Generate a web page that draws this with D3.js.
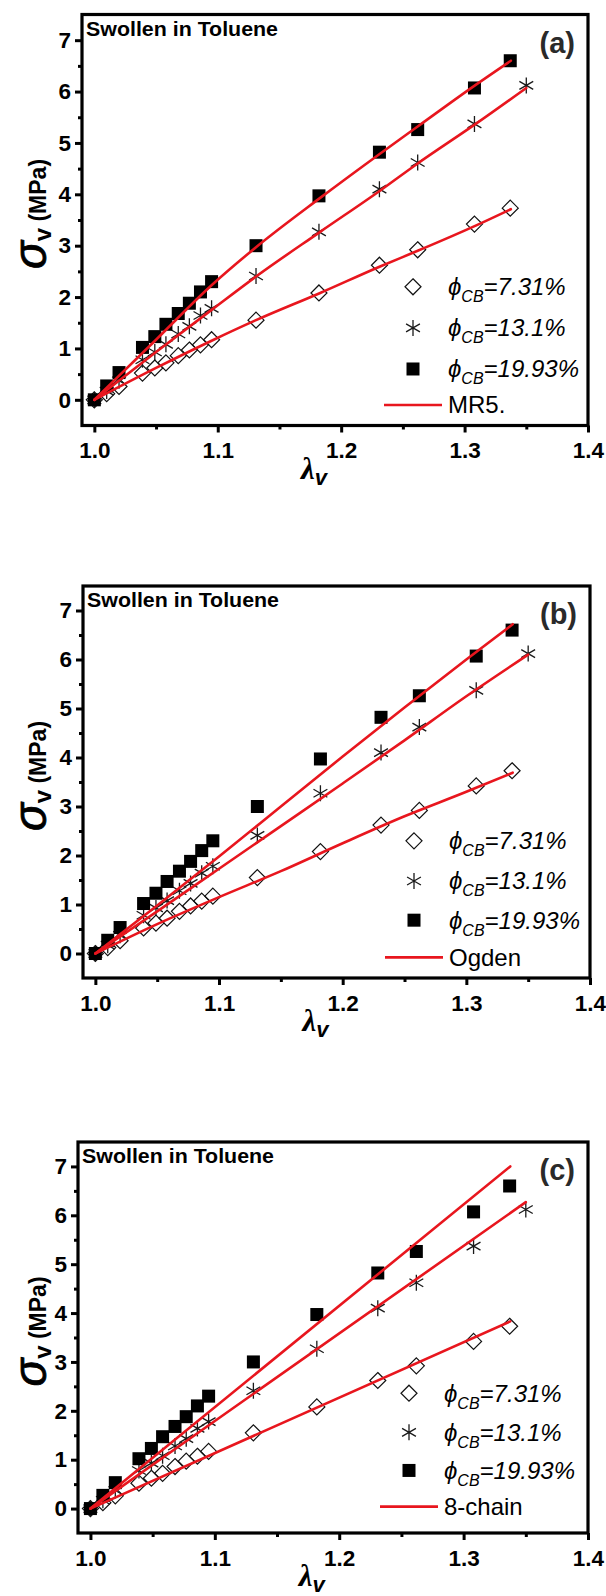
<!DOCTYPE html>
<html>
<head>
<meta charset="utf-8">
<script src="https://cdn.jsdelivr.net/npm/d3@7"></script>
<style>
  html, body { margin: 0; padding: 0; background: #fff; }
  svg { display: block; }
  text { font-family: "Liberation Sans", Arial, sans-serif; }
</style>
</head>
<body>
<svg id="fig" width="606" height="1596"></svg>
<script>
// Measured stretch ratio λ for each series (the 13.1 % series ends at a larger stretch)
const lambdaPts    = [1.000, 1.010, 1.020, 1.039, 1.049, 1.058, 1.068, 1.077, 1.086, 1.095, 1.131, 1.182, 1.231, 1.262, 1.308, 1.337];
const lambdaPts131 = [1.000, 1.010, 1.020, 1.039, 1.049, 1.058, 1.068, 1.077, 1.086, 1.095, 1.131, 1.182, 1.231, 1.262, 1.308, 1.350];

// Measured stress σ_v (MPa)
const sigma731  = [0, 0.12, 0.26, 0.52, 0.62, 0.72, 0.86, 0.97, 1.07, 1.17, 1.55, 2.08, 2.62, 2.92, 3.42, 3.73];
const sigma131  = [0, 0.17, 0.37, 0.78, 0.93, 1.08, 1.28, 1.43, 1.64, 1.78, 2.41, 3.27, 4.10, 4.62, 5.37, 6.12];
const sigma1993 = [0, 0.27, 0.53, 1.02, 1.23, 1.47, 1.68, 1.88, 2.10, 2.30, 3.00, 3.97, 4.82, 5.26, 6.07, 6.60];

const seriesNames = ["7.31%", "13.1%", "19.93%"];

// Model curves [λ, σ]
const mr5_731  = [[1, 0], [1.05, 0.62], [1.095, 1.15], [1.131, 1.55], [1.183, 2.08], [1.232, 2.6], [1.262, 2.9], [1.309, 3.39], [1.3375, 3.71]];
const mr5_131  = [[1, 0], [1.05, 0.93], [1.095, 1.75], [1.131, 2.4], [1.183, 3.27], [1.232, 4.08], [1.262, 4.6], [1.309, 5.37], [1.35, 6.07]];
const mr5_1993 = [[1, 0], [1.05, 1.17], [1.095, 2.23], [1.131, 2.97], [1.183, 3.93], [1.232, 4.8], [1.262, 5.32], [1.309, 6.13], [1.3375, 6.6]];

const ogden_731  = [[1, 0], [1.05, 0.6], [1.1, 1.15], [1.15, 1.68], [1.2, 2.25], [1.25, 2.8], [1.3, 3.3], [1.3375, 3.69]];
const ogden_131  = [[1, 0], [1.05, 0.86], [1.1, 1.73], [1.15, 2.6], [1.2, 3.47], [1.25, 4.35], [1.3, 5.25], [1.35, 6.1]];
const ogden_1993 = [[1, 0], [1.05, 0.98], [1.1, 1.98], [1.15, 3.0], [1.2, 4.02], [1.25, 5.02], [1.3, 6.0], [1.3375, 6.72]];

const chain_731  = [[1, 0], [1.3375, 3.83]];
const chain_131  = [[1, 0], [1.35, 6.27]];
const chain_1993 = [[1, 0], [1.3375, 7.0]];

// Axis ticks
const xTicks = [1.0, 1.1, 1.2, 1.3, 1.4];
const xMinor = [1.05, 1.15, 1.25, 1.35];
const yTicks = [0, 1, 2, 3, 4, 5, 6, 7];
const yMinor = [0.5, 1.5, 2.5, 3.5, 4.5, 5.5, 6.5];

const xDomain = [0.99, 1.4];
const yDomain = [-0.5, 7.5];

const RED = "#e8161e";
const svg = d3.select("#fig");

const panels = [
  { tag: "(a)", fitName: "MR5.",    fits: [mr5_731, mr5_131, mr5_1993],       box: { left: 82, right: 588, top: 14.5, bottom: 425.5 }, legendRows: [2.2, 1.4, 0.6, -0.1] },
  { tag: "(b)", fitName: "Ogden",   fits: [ogden_731, ogden_131, ogden_1993], box: { left: 83, right: 590, top: 586,  bottom: 978 },   legendRows: [2.3, 1.48, 0.68, -0.08] },
  { tag: "(c)", fitName: "8-chain", fits: [chain_731, chain_131, chain_1993], box: { left: 78, right: 588, top: 1142, bottom: 1533 },  legendRows: [2.36, 1.56, 0.78, 0.04] }
];

const diamondPath = "M0,-8L8,0L0,8L-8,0Z";
const starPath = (() => {
  const r = 8, p = [];
  for (let k = 0; k < 3; k++) {
    const a = Math.PI / 2 + k * Math.PI / 3;
    p.push(`M${(r * Math.cos(a)).toFixed(2)},${(-r * Math.sin(a)).toFixed(2)}L${(-r * Math.cos(a)).toFixed(2)},${(r * Math.sin(a)).toFixed(2)}`);
  }
  return p.join("");
})();

function drawMarker(g, kind, cx, cy) {
  if (kind === 0) {
    g.append("path").attr("d", diamondPath).attr("transform", `translate(${cx},${cy})`)
      .attr("fill", "none").attr("stroke", "#111").attr("stroke-width", 1.2);
  } else if (kind === 1) {
    g.append("path").attr("d", starPath).attr("transform", `translate(${cx},${cy})`)
      .attr("fill", "none").attr("stroke", "#1a1a1a").attr("stroke-width", 1.3);
  } else {
    g.append("rect").attr("x", cx - 6.5).attr("y", cy - 6.5).attr("width", 13).attr("height", 13).attr("fill", "#000");
  }
}

function drawPanel(p) {
  const b = p.box;
  const x = d3.scaleLinear().domain(xDomain).range([b.left, b.right]);
  const y = d3.scaleLinear().domain(yDomain).range([b.bottom, b.top]);
  const g = svg.append("g");

  // axes (ticks outward)
  const xAxis = g.append("g").attr("transform", `translate(0,${b.bottom})`)
    .call(d3.axisBottom(x).tickValues(xTicks).tickFormat(d3.format(".1f")).tickSize(7).tickPadding(10));
  const xAxisMinor = g.append("g").attr("transform", `translate(0,${b.bottom})`)
    .call(d3.axisBottom(x).tickValues(xMinor).tickFormat("").tickSize(4));
  const yAxis = g.append("g").attr("transform", `translate(${b.left},0)`)
    .call(d3.axisLeft(y).tickValues(yTicks).tickFormat(d3.format("d")).tickSize(7).tickPadding(4));
  const yAxisMinor = g.append("g").attr("transform", `translate(${b.left},0)`)
    .call(d3.axisLeft(y).tickValues(yMinor).tickFormat("").tickSize(4));
  [xAxis, xAxisMinor, yAxis, yAxisMinor].forEach(a => {
    a.select(".domain").remove();
    a.selectAll(".tick line").attr("stroke", "#000").attr("stroke-width", 3);
    a.selectAll(".tick text").attr("fill", "#000").attr("font-size", 22.5).attr("font-weight", "bold")
      .style("font-family", '"Liberation Sans", Arial, sans-serif');
  });

  // data markers
  const mg = g.append("g");
  lambdaPts.forEach((l, i) => drawMarker(mg, 0, x(l), y(sigma731[i])));
  lambdaPts131.forEach((l, i) => drawMarker(mg, 1, x(l), y(sigma131[i])));
  lambdaPts.forEach((l, i) => drawMarker(mg, 2, x(l), y(sigma1993[i])));

  // model curves
  const line = d3.line().x(d => x(d[0])).y(d => y(d[1])).curve(d3.curveMonotoneX);
  p.fits.forEach(f => {
    g.append("path").datum(f).attr("d", line).attr("fill", "none")
      .attr("stroke", RED).attr("stroke-width", 2.6).attr("stroke-linecap", "round");
  });

  // frame
  g.append("rect").attr("x", b.left).attr("y", b.top)
    .attr("width", b.right - b.left).attr("height", b.bottom - b.top)
    .attr("fill", "none").attr("stroke", "#000").attr("stroke-width", 3.2);

  // annotations
  g.append("text").attr("x", b.left + 4).attr("y", b.top + 21)
    .attr("font-size", 20).attr("font-weight", "bold").attr("fill", "#000")
    .attr("textLength", 192).attr("lengthAdjust", "spacingAndGlyphs")
    .text("Swollen in Toluene");
  g.append("text").attr("x", b.right - 13).attr("y", b.top + 38)
    .attr("text-anchor", "end").attr("font-size", 29).attr("font-weight", "bold").attr("fill", "#2a2a2a")
    .text(p.tag);

  // legend
  const symX = b.left + 331, lineX0 = b.left + 302, lineX1 = b.left + 360, textX = b.left + 366;
  seriesNames.forEach((name, i) => {
    const ry = y(p.legendRows[i]);
    drawMarker(g, i, symX, ry);
    const t = g.append("text").attr("x", textX).attr("y", ry + 8.5)
      .attr("font-size", 24).attr("font-style", "italic").attr("fill", "#000");
    t.append("tspan").text("\u03D5");
    t.append("tspan").attr("font-size", 16).attr("dy", 7).text("CB");
    t.append("tspan").attr("dy", -7).text("=" + name);
  });
  const ly = y(p.legendRows[3]);
  g.append("line").attr("x1", lineX0).attr("x2", lineX1).attr("y1", ly).attr("y2", ly)
    .attr("stroke", RED).attr("stroke-width", 2.6);
  g.append("text").attr("x", textX).attr("y", ly + 8.5).attr("font-size", 24).attr("fill", "#000").text(p.fitName);

  // y-axis title
  const yl = g.append("text")
    .attr("transform", `translate(46,${(b.top + b.bottom) / 2 - 6}) rotate(-90)`)
    .attr("text-anchor", "middle").attr("fill", "#000");
  yl.append("tspan").attr("font-size", 46).attr("font-style", "italic")
    .attr("stroke", "#000").attr("stroke-width", 0.8)
    .style("font-family", '"Liberation Sans", Arial, sans-serif').text("\u03C3");
  yl.append("tspan").attr("font-size", 24).attr("font-weight", "bold").attr("dy", 5).text("v");
  yl.append("tspan").attr("font-size", 23).attr("font-weight", "bold").attr("dy", -5).text(" (MPa)");

  // x-axis title
  const xl = g.append("text").attr("x", x(1.178)).attr("y", b.bottom + 53)
    .attr("text-anchor", "middle").attr("fill", "#000");
  xl.append("tspan").attr("font-size", 31).attr("font-style", "italic").attr("font-weight", "bold")
    .style("font-family", '"Liberation Serif", "Times New Roman", serif').text("\u03BB");
  xl.append("tspan").attr("font-size", 22).attr("font-style", "italic").attr("font-weight", "bold").attr("dy", 6).text("v");
}

panels.forEach(drawPanel);
</script>
</body>
</html>
